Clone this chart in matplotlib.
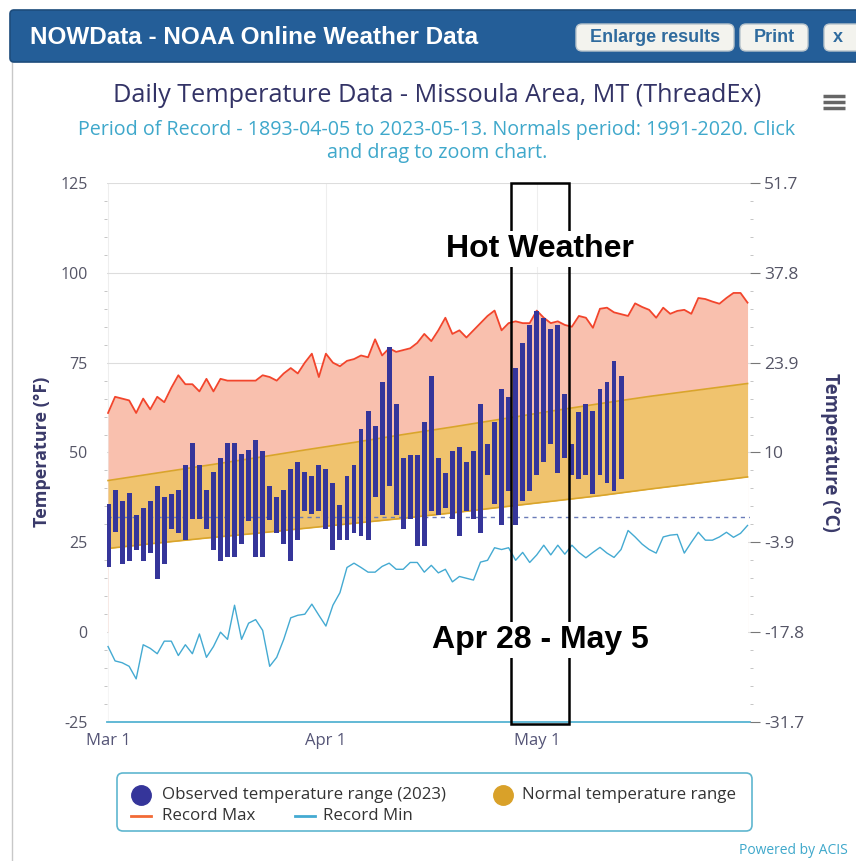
import matplotlib
matplotlib.use("Agg")
import matplotlib.pyplot as plt
from matplotlib.patches import Rectangle, FancyBboxPatch
from matplotlib.ticker import MultipleLocator

# day index 0 = Mar 1
day_ticks = [0, 31, 61]
day_labels = ['Mar 1', 'Apr 1', 'May 1']

# record max / min, Mar 1 .. May 31 (92 days)
rec_max = [61, 65.5, 65, 64.5, 61, 65, 62, 65.5, 64, 68,
           71.5, 69, 69, 67, 70.5, 67, 70.5, 70, 70, 70,
           70, 70, 71.5, 71, 70, 72, 73.5, 72, 75, 77.5,
           71, 77.5, 75, 74, 75.5, 76, 77, 76.5, 81.5, 77,
           79, 78, 78.5, 79, 80.5, 83, 81, 84, 87.5, 83,
           84, 82, 84, 86, 88, 89.5, 84, 86, 86.5, 86,
           86, 89.5, 87.5, 86, 86.5, 85.5, 85, 88, 87.5, 84.7,
           90, 90.3, 89, 88.5, 88, 91.5, 90.5, 89.7, 87.5, 90.3,
           88.6, 89.4, 89.7, 88.6, 93, 92.7, 92, 91.4, 93, 94.4,
           94.4, 91.7]
rec_min = [-4, -8, -8.5, -9.5, -13, -3.5, -4.5, -6, -2.5, -2.5,
           -6.5, -3.5, -6, -0.5, -7, -4, 0, -2, 7.5, -2,
           2.5, 3.5, 0.5, -9.5, -7, -2, 4, 4.7, 5, 7.8,
           4.7, 1.7, 7.5, 11, 18, 19.2, 18, 16.7, 16.7, 18.3,
           19.2, 17.5, 17.5, 19.4, 19.4, 16.7, 18.6, 16.5, 17.5, 14,
           15.5, 15, 14.5, 19.5, 20, 23.5, 23, 23.5, 20, 22.2,
           19.4, 21.5, 24.2, 21.5, 24.2, 21.7, 24.2, 22.2, 20.7, 22.2,
           23.6, 22, 20.8, 23, 28.3, 26.5, 24.5, 23, 22, 26.5,
           27, 27.2, 22, 25, 27.8, 25.6, 25.6, 26.5, 27.8, 26.4,
           27.5, 29.7]

# 1991-2020 normals, read weekly
norm_days = [0, 7, 14, 21, 28, 35, 42, 49, 56, 63, 70, 77, 84, 91]
norm_hi = [42.2, 44.3, 46.4, 48.5, 50.7, 52.8, 55.0, 57.1, 59.3, 61.5, 63.6, 65.6, 67.4, 69.2]
norm_lo = [23.3, 24.8, 26.2, 27.5, 28.9, 30.3, 31.7, 33.2, 34.8, 36.4, 38.0, 39.8, 41.5, 43.2]

# observed 2023, Mar 1 .. May 13
obs_hi = [35.6, 39.6, 36.5, 38.7, 32.7, 34.5, 36.5, 40.6, 37.6, 38.5,
          39.6, 46.6, 52.6, 46.6, 39.6, 44.5, 48.5, 52.6, 52.6, 49.5,
          50.6, 53.5, 50.5, 40.7, 37.6, 39.6, 45.5, 47.3, 44.5, 43.5,
          46.5, 45.5, 41.4, 35.4, 43.5, 46.5, 56.6, 61.5, 57.5, 69.5,
          79.4, 63.5, 48.5, 49.4, 49.4, 58.4, 71.4, 48.5, 44.3, 50.4,
          51.4, 47.3, 50.4, 63.5, 52.4, 58.4, 67.7, 65.4, 73.5, 80.5,
          85.5, 89.5, 87.5, 84.5, 85.5, 66.4, 52.4, 61.4, 63.4, 61.5,
          67.7, 69.5, 75.6, 71.4]
obs_lo = [18.0, 27.8, 18.9, 19.8, 23.0, 19.8, 21.9, 14.9, 18.9, 28.8,
          27.7, 25.7, 31.6, 31.6, 28.8, 23.0, 19.8, 20.8, 20.8, 24.6,
          31.0, 20.8, 20.8, 31.1, 27.7, 24.6, 19.8, 25.7, 33.8, 33.0,
          33.7, 28.8, 23.0, 25.7, 25.7, 27.7, 26.7, 25.7, 37.7, 32.5,
          40.8, 32.7, 28.8, 31.6, 23.9, 23.9, 33.7, 32.7, 34.5, 31.6,
          26.7, 33.7, 31.6, 27.6, 43.6, 35.7, 29.7, 39.4, 29.7, 36.5,
          39.4, 43.6, 47.3, 52.4, 44.4, 48.6, 43.6, 42.5, 43.6, 38.5,
          43.6, 41.5, 39.4, 42.5]

yticks_f = [-25, 0, 25, 50, 75, 100, 125]
yticks_c = ['-31.7', '-17.8', '-3.9', '10', '23.9', '37.8', '51.7']
freezing = 32
hot_start, hot_end = 58, 65   # Apr 28 .. May 5

rec_days = list(range(len(rec_max)))
obs_days = list(range(len(obs_hi)))

c_navy = '#35359a'
c_pink = '#f9c0ae'
c_gold = '#f0c36e'
c_goldline = '#d9a52a'
c_red = '#f2452c'
c_blue = '#44aad2'
c_text = '#3a3a6a'
c_cyan = '#3fa8cb'

fig = plt.figure(figsize=(8.56, 8.61), dpi=100)

# page chrome in pixel coordinates
ov = fig.add_axes([0, 0, 1, 1], zorder=0)
ov.set_xlim(0, 856)
ov.set_ylim(861, 0)
ov.axis('off')
ov.add_patch(Rectangle((12, 10), 850, 860, fc='white', ec='#c8c8c8', lw=1))
ov.add_patch(FancyBboxPatch((10, 10), 852, 52, boxstyle='round,pad=0,rounding_size=4',
                            fc='#245e98', ec='#1d4c7c', lw=1.2))
ov.text(30, 37, 'NOWData - NOAA Online Weather Data', color='white', fontsize=17.5,
        weight='bold', family='Liberation Sans', va='center')
for x0, w, label in [(576, 158, 'Enlarge results'), (740, 68, 'Print'), (824, 40, 'x')]:
    ov.add_patch(FancyBboxPatch((x0, 24), w, 27, boxstyle='round,pad=0,rounding_size=6',
                                fc='#f3f3ee', ec='#b8c4cc', lw=1))
    ov.text(x0 + w / 2 if label != 'x' else x0 + 14, 38, label, color='#2f6b9e',
            fontsize=13, weight='bold', family='Liberation Sans', ha='center', va='center')

ov.text(437, 95, 'Daily Temperature Data - Missoula Area, MT (ThreadEx)', ha='center',
        va='center', fontsize=18.2, color='#333366', family='Open Sans')
ov.text(437, 130, 'Period of Record - 1893-04-05 to 2023-05-13. Normals period: 1991-2020. Click',
        ha='center', va='center', fontsize=14.2, color=c_cyan, family='Open Sans')
ov.text(437, 153, 'and drag to zoom chart.', ha='center', va='center', fontsize=14.2,
        color=c_cyan, family='Open Sans')
for yy in (96, 102, 108):
    ov.plot([823, 845], [yy, yy], color='#666666', lw=2.5, solid_capstyle='butt')

ov.text(42, 452, 'Temperature (°F)', rotation=90, ha='center', va='center', fontsize=13,
        weight='bold', color=c_text, family='Open Sans')
ov.text(830, 452, 'Temperature (°C)', rotation=270, ha='center', va='center', fontsize=13.5,
        weight='bold', color=c_text, family='Open Sans')

# legend
ov.add_patch(FancyBboxPatch((117, 773), 635, 58, boxstyle='round,pad=0,rounding_size=6',
                            fc='white', ec='#5fb6cf', lw=1.2))
ov.plot(141, 795, 'o', ms=14, color=c_navy)
ov.text(162, 795, 'Observed temperature range (2023)', va='center', fontsize=12.2,
        color='#333333', family='Open Sans')
ov.plot(503, 795, 'o', ms=14, color='#d9a129')
ov.text(522, 795, 'Normal temperature range', va='center', fontsize=12.2,
        color='#333333', family='Open Sans')
ov.plot([131, 151], [816, 816], color='#f26a36', lw=2)
ov.text(162, 816, 'Record Max', va='center', fontsize=12.2, color='#333333', family='Open Sans')
ov.plot([295, 315], [816, 816], color=c_blue, lw=2)
ov.text(323, 816, 'Record Min', va='center', fontsize=12.2, color='#333333', family='Open Sans')
ov.text(848, 851, 'Powered by ACIS', ha='right', va='center', fontsize=10, color=c_cyan,
        family='Open Sans')

# main chart
ax = fig.add_axes([107 / 856, 1 - 722 / 861, 643 / 856, 539 / 861], zorder=1)
ax.set_facecolor('white')
ax.set_xlim(-0.15, 91.35)
ax.set_ylim(-25, 125)

ax.fill_between(norm_days, norm_lo, norm_hi, color=c_gold, lw=0, zorder=1.2)
ax.plot(norm_days, norm_hi, color=c_goldline, lw=1.2, zorder=2)
ax.plot(norm_days, norm_lo, color=c_goldline, lw=1.2, zorder=2)
ax.fill_between(rec_days, [0] * len(rec_days), rec_max, color=c_pink, lw=0, zorder=1)
ax.fill_between(norm_days, [-30] * len(norm_days), norm_lo, color='white', lw=0, zorder=1.1)
ax.plot(rec_days, rec_max, color=c_red, lw=1.3, zorder=3)
ax.plot(rec_days, rec_min, color=c_blue, lw=1.0, zorder=3)
ax.axhline(freezing, color='#6a7bb8', lw=1, ls=(0, (3, 3)), zorder=2.5)

ax.bar(obs_days, [h - l for h, l in zip(obs_hi, obs_lo)], bottom=obs_lo, width=0.7,
       color=c_navy, zorder=4)

ax.add_patch(Rectangle((hot_start - 0.6, -25.5), hot_end - hot_start + 1.2, 150.5, fill=False,
                       ec='black', lw=1.8, clip_on=False, zorder=5))
ax.text(61.5, 106.7, 'Hot Weather', ha='center', va='center', fontsize=23, weight='bold',
        family='Liberation Sans', zorder=6, bbox=dict(fc='white', ec='none', pad=2))
ax.text(61.5, -2.2, 'Apr 28 - May 5', ha='center', va='center', fontsize=23, weight='bold',
        family='Liberation Sans', zorder=6, bbox=dict(fc='white', ec='none', pad=2))

for s in ('left', 'right', 'top'):
    ax.spines[s].set_visible(False)
ax.spines['bottom'].set_color('#55b3d2')
ax.spines['bottom'].set_linewidth(1.3)

ax.set_yticks(yticks_f)
ax.yaxis.set_minor_locator(MultipleLocator(5))
ax.set_yticklabels([str(v) for v in yticks_f], fontsize=11.5, color='#555566', family='Open Sans')
ax.tick_params(axis='y', which='major', length=0, pad=14)
ax.tick_params(axis='y', which='minor', length=2.5, color='#bbbbbb')
ax.set_xticks(day_ticks)
ax.set_xticklabels(day_labels, fontsize=12, color='#555577', family='Open Sans')
ax.tick_params(axis='x', length=0, pad=8)
ax.yaxis.grid(True, color='#dddddd', lw=0.8)
ax.xaxis.grid(True, color='#eeeeee', lw=0.8)
ax.set_axisbelow(True)

ax2 = ax.twinx()
ax2.set_ylim(ax.get_ylim())
ax2.set_yticks(yticks_f)
ax2.set_yticklabels(yticks_c, fontsize=12.5, color='#555566', family='Open Sans')
ax2.yaxis.set_minor_locator(MultipleLocator(5))
ax2.tick_params(axis='y', which='major', length=7, color='#777777', pad=3)
ax2.tick_params(axis='y', which='minor', length=2.5, color='#bbbbbb')
for s in ax2.spines.values():
    s.set_visible(False)

fig.savefig('out.png', dpi=100)
